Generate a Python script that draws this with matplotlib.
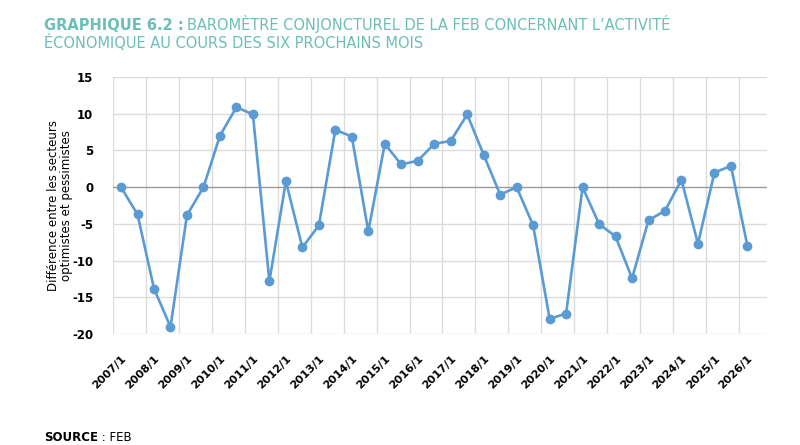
import matplotlib
matplotlib.use("Agg")
import matplotlib.pyplot as plt
import numpy as np

# semi-annual survey, one label every year
years = list(range(2007, 2027))
tick_labels = ["{}/1".format(y) for y in years]
values = [0, -3.7, -13.8, -19.0, -3.8, 0, 7.0, 10.9, 9.9, -12.8,
          0.8, -8.2, -5.2, 7.8, 6.9, -6.0, 5.9, 3.1, 3.6, 5.9,
          6.3, 9.9, 4.4, -1.0, 0, -5.2, -17.9, -17.2, 0, -5.0,
          -6.7, -12.4, -4.5, -3.2, 1.0, -7.7, 2.0, 2.9, -8.0]
y_ticks = [15, 10, 5, 0, -5, -10, -15, -20]

teal = "#6cbfb7"
blue = "#5b9bd3"

fig = plt.figure(figsize=(8, 4.45), dpi=100)
ax = fig.add_axes([0.141, 0.249, 0.818, 0.578])

n_cat = len(values) + 1
x = np.arange(len(values))

# grid like excel: horizontal lines + vertical lines every 2 categories
for yv in y_ticks:
    if yv == 0:
        ax.axhline(yv, color="#9a9a9a", lw=1.0, zorder=1)
    else:
        ax.axhline(yv, color="#dcdcdc", lw=1.0, zorder=0)
for k in range(0, n_cat, 2):
    ax.axvline(k - 0.5, color="#dcdcdc", lw=1.0, zorder=0)

ax.plot(x, values, color=blue, lw=1.9, marker="o", markersize=6, zorder=3)

ax.set_xlim(-0.5, n_cat - 0.8)
ax.set_ylim(-20, 15)
ax.set_yticks(y_ticks)
ax.set_yticklabels([str(v) for v in y_ticks], fontsize=8.5, fontweight="bold")
ax.set_xticks(x[::2])
ax.set_xticklabels(tick_labels, rotation=45, ha="right", rotation_mode="anchor",
                   fontsize=8, fontweight="bold")
ax.tick_params(axis="y", length=0, pad=14)
ax.tick_params(axis="x", length=0, pad=14)
for s in ax.spines.values():
    s.set_visible(False)

ax.set_ylabel("Différence entre les secteurs\noptimistes et pessimistes",
              fontsize=8.5, linespacing=1.0, va="center")
ax.yaxis.set_label_coords(-0.08, 0.5)

# title in two weights
fig.canvas.draw()
r = fig.canvas.get_renderer()
t1 = fig.text(44 / 800, 1 - 30 / 445, "GRAPHIQUE 6.2 :", color=teal, fontsize=10.5,
              fontweight="bold", family="Liberation Sans Narrow")
bb = t1.get_window_extent(renderer=r)
fig.text(bb.x1 / 800 + 0.004, 1 - 30 / 445,
         "BAROMÈTRE CONJONCTUREL DE LA FEB CONCERNANT L’ACTIVITÉ",
         color=teal, fontsize=10.5, family="Liberation Sans Narrow")
fig.text(44 / 800, 1 - 48 / 445, "ÉCONOMIQUE AU COURS DES SIX PROCHAINS MOIS",
         color=teal, fontsize=10.5, family="Liberation Sans Narrow")

s1 = fig.text(44 / 800, 1 - 441 / 445, "SOURCE", fontsize=8.5, fontweight="bold")
bb = s1.get_window_extent(renderer=r)
fig.text(bb.x1 / 800, 1 - 441 / 445, " : FEB", fontsize=8.5)

fig.savefig("out.png", dpi=100)
